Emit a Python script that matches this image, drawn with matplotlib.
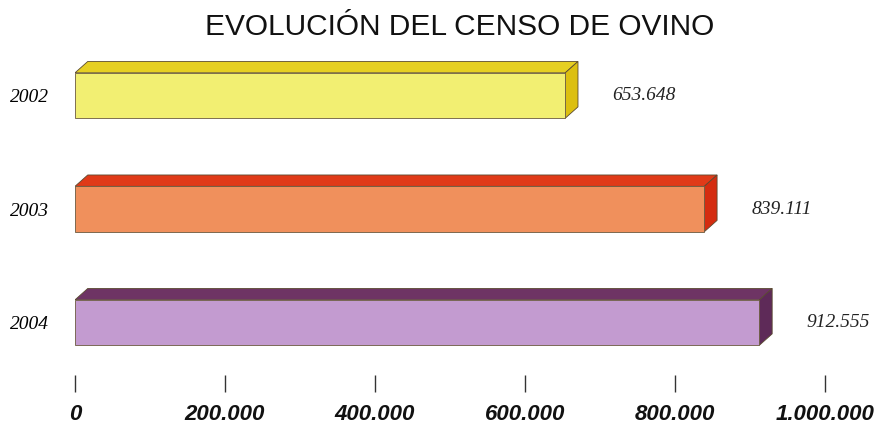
import matplotlib.pyplot as plt
from matplotlib.patches import Polygon

years = ['2002', '2003', '2004']
censo = [653648, 839111, 912555]
value_labels = ['653.648', '839.111', '912.555']
ticks = [0, 200000, 400000, 600000, 800000, 1000000]
tick_labels = ['0', '200.000', '400.000', '600.000', '800.000', '1.000.000']

front_colors = ['#f2ef72', '#f0905c', '#c39bd0']
top_colors = ['#e6cf22', '#e03a18', '#6e3464']
side_colors = ['#dcbf10', '#d42c10', '#5e2a58']


def main():
    fig = plt.figure(figsize=(8.76, 4.29), dpi=100)
    ax = fig.add_axes([75 / 876, 1 - 392 / 429, 750 / 876, 337 / 429])

    h = 0.40
    dx = 17000   # profundidad en x
    dy = 0.10    # profundidad en y
    ypos = list(range(len(years)))

    ax.barh(ypos, censo, height=h, color=front_colors, edgecolor='#6b5a40', linewidth=0.6, zorder=3)
    for y, v, ct, cs in zip(ypos, censo, top_colors, side_colors):
        top = [(0, y - h / 2), (v, y - h / 2), (v + dx, y - h / 2 - dy), (dx, y - h / 2 - dy)]
        side = [(v, y - h / 2), (v + dx, y - h / 2 - dy), (v + dx, y + h / 2 - dy), (v, y + h / 2)]
        ax.add_patch(Polygon(top, closed=True, facecolor=ct, edgecolor='#5a4a30', linewidth=0.6, zorder=2))
        ax.add_patch(Polygon(side, closed=True, facecolor=cs, edgecolor='#5a4a30', linewidth=0.6, zorder=2))

    for y, v, lab in zip(ypos, censo, value_labels):
        ax.text(v + dx + 46000, y, lab, ha='left', va='center', fontsize=14,
                family='Liberation Serif', style='italic', color='#222222')

    ax.set_yticks(ypos)
    ax.set_yticklabels(years, family='Liberation Serif', style='italic', fontsize=14)
    ax.tick_params(axis='y', length=0, pad=19)

    ax.set_xticks(ticks)
    ax.set_xticklabels(tick_labels, family=['Liberation Sans Narrow', 'DejaVu Sans Condensed', 'Liberation Sans'],
                       style='italic', weight='bold', fontsize=16, color='#111111')
    ax.tick_params(axis='x', direction='in', length=12, width=1, color='#333333', pad=9)

    ax.set_xlim(0, 1000000)
    ax.set_ylim(2.612, -0.357)
    for s in ax.spines.values():
        s.set_visible(False)

    fig.text(0.525, 1 - 27 / 429, 'EVOLUCIÓN DEL CENSO DE OVINO', ha='center', va='center',
             fontsize=21.5, family='Liberation Sans', color='#111111')

    fig.savefig('out.png', dpi=100)


if __name__ == "__main__":
    main()
